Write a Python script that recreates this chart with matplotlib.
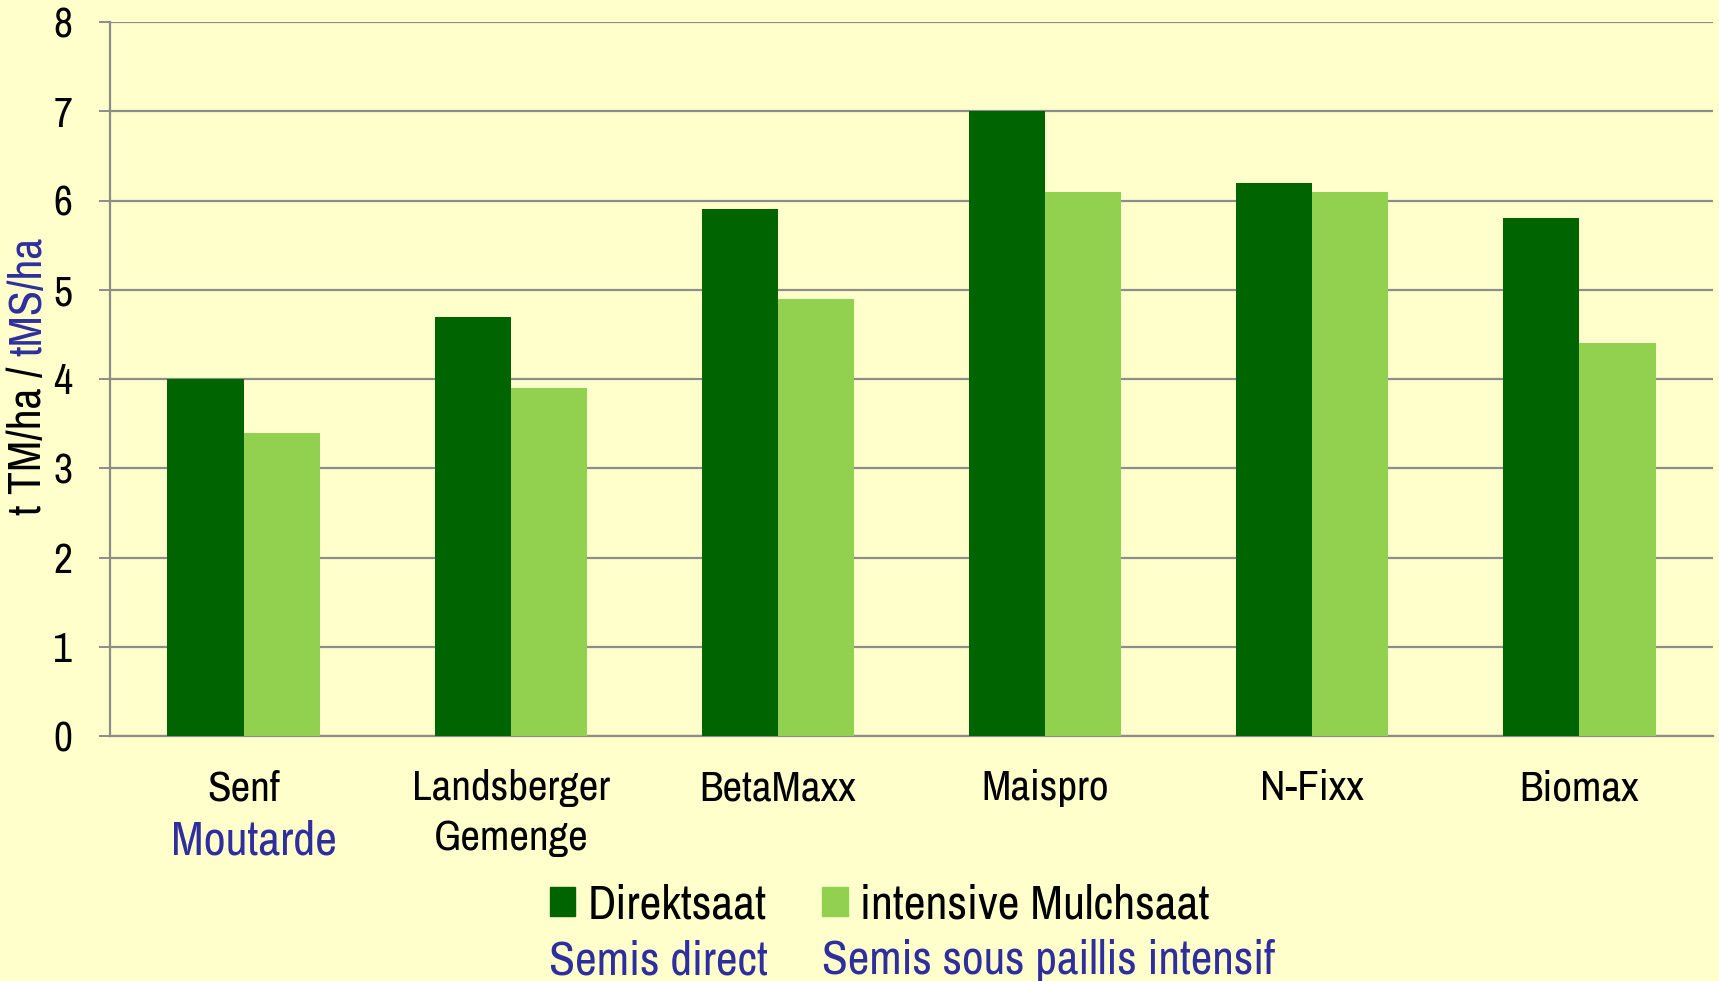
import numpy as np
import matplotlib
matplotlib.use("Agg")
import matplotlib.pyplot as plt
from matplotlib.patches import Patch
from matplotlib import font_manager

# data
categories = ["Senf", "Landsberger\nGemenge", "BetaMaxx", "Maispro", "N-Fixx", "Biomax"]
direktsaat = [4.0, 4.7, 5.9, 7.0, 6.2, 5.8]
mulchsaat = [3.4, 3.9, 4.9, 6.1, 6.1, 4.4]
yticks = [0, 1, 2, 3, 4, 5, 6, 7, 8]

bg = "#FFFFCC"
dark = "#006400"
light = "#92D050"
blue = "#2E2E9E"
grid_col = "#8C8C8C"


def weight_num(wt):
    if isinstance(wt, int):
        return wt
    return font_manager.weight_dict.get(wt, 400)


# look for a narrow / condensed regular face, otherwise shrink the regular one
cands = [f for f in font_manager.fontManager.ttflist
         if ("narrow" in f.fname.lower() or "condensed" in f.fname.lower()
             or "narrow" in f.name.lower() or "condensed" in f.name.lower())
         and f.style == "normal"]
cands.sort(key=lambda f: (0 if "narrow" in (f.name + f.fname).lower() else 1,
                          abs(weight_num(f.weight) - 400)))
if cands:
    face = cands[0]
    plt.rcParams["font.family"] = [face.name, "DejaVu Sans"]
    plt.rcParams["font.stretch"] = face.stretch
    plt.rcParams["font.weight"] = weight_num(face.weight)
    k = 1.0
else:
    plt.rcParams["font.family"] = ["Liberation Sans", "DejaVu Sans"]
    k = 0.86

fig = plt.figure(figsize=(17.19, 9.81), dpi=100, facecolor=bg)
ax = fig.add_axes([110 / 1719, 1 - 736 / 981, (1713 - 110) / 1719, (736 - 22) / 981])
ax.set_facecolor(bg)

x = np.arange(len(categories))
w = 0.285
ax.bar(x - w / 2, direktsaat, w, color=dark, zorder=3)
ax.bar(x + w / 2, mulchsaat, w, color=light, zorder=3)

ax.set_xlim(-0.5, len(categories) - 0.5)
ax.set_ylim(0, 8)
ax.set_yticks(yticks)
ax.yaxis.grid(True, color=grid_col, linewidth=1.6, zorder=0)
ax.tick_params(axis="y", length=8, width=1.4, color=grid_col, pad=19, labelsize=30 * k)
ax.set_xticks(x)
ax.set_xticklabels(categories, fontsize=31 * k, linespacing=1.38)
ax.tick_params(axis="x", length=0, pad=24)

for side in ["top", "right"]:
    ax.spines[side].set_visible(False)
for side in ["left", "bottom"]:
    ax.spines[side].set_color(grid_col)
    ax.spines[side].set_linewidth(1.6)

# french name under Senf
ax.text(0.04, -0.147, "Moutarde", transform=ax.get_xaxis_transform(),
        ha="center", va="center", fontsize=34.5 * k, color=blue)

# y label in two colours, blue part placed right after the black one
t1 = fig.text(28 / 1719, 1 - 515 / 981, "t TM/ha / ", rotation=90,
              ha="center", va="bottom", fontsize=33 * k, color="black")
fig.canvas.draw()
bb = t1.get_window_extent()
fig.text(28 / 1719, bb.y1 / fig.bbox.height, "tMS/ha", rotation=90,
         ha="center", va="bottom", fontsize=33 * k, color=blue)

# legend
handles = [Patch(color=dark, label="Direktsaat"),
           Patch(color=light, label="intensive Mulchsaat")]
fig.legend(handles=handles, loc="center left", bbox_to_anchor=(550 / 1719, 1 - 905 / 981),
           ncol=2, frameon=False, fontsize=34.5 * k, handlelength=0.53 / k, handleheight=0.53 / k,
           handletextpad=0.26, columnspacing=1.16, borderpad=0, borderaxespad=0)
fig.text(549 / 1719, 1 - 961 / 981, "Semis direct", ha="left", va="center",
         fontsize=34.2 * k, color=blue)
fig.text(822 / 1719, 1 - 961 / 981, "Semis sous paillis intensif", ha="left", va="center",
         fontsize=34 * k, color=blue)

fig.savefig("out.png", dpi=100, facecolor=bg)
